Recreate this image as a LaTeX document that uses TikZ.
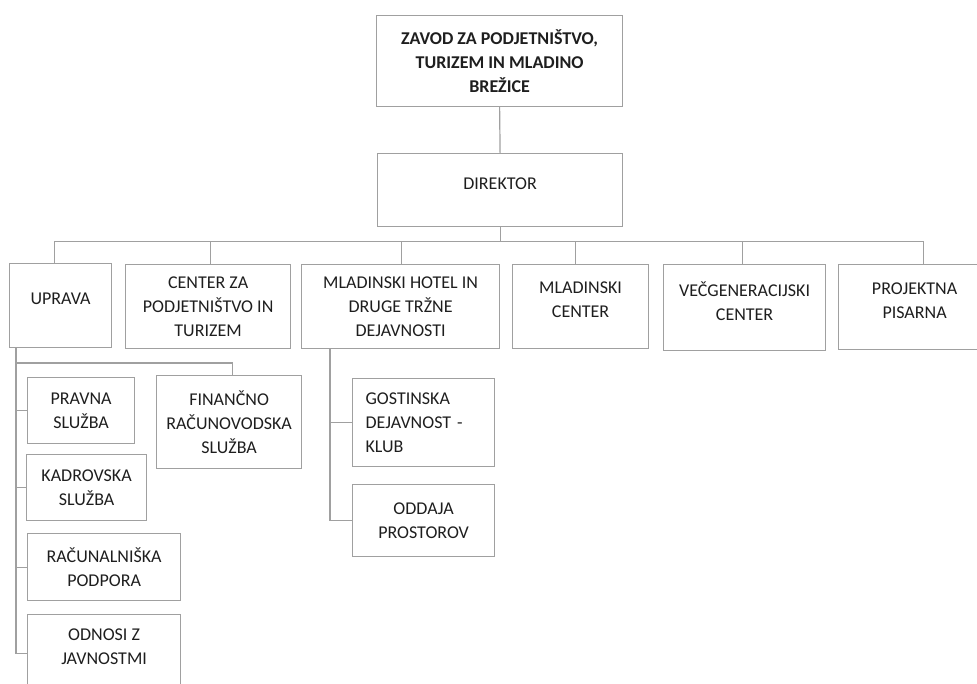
\documentclass[tikz,border=0pt]{standalone}
\usepackage{fontspec}
\setmainfont{Carlito}
\definecolor{boxline}{HTML}{A0A0A0}
\definecolor{boxtext}{HTML}{1E1E1E}

\begin{document}
\begin{tikzpicture}[x=1pt, y=-1pt]
    \tikzstyle{unit}=[draw=boxline, line width=1.2pt, anchor=north west, align=center, inner sep=2pt, text=boxtext, font=\fontsize{18}{24}\selectfont]
    \tikzstyle{raised}=[text depth=13pt]
    \tikzstyle{link}=[draw=boxline, line width=1.2pt]

    \useasboundingbox (0,0) rectangle (977,684);
    \clip (0,0) rectangle (977,684);

    % Draw the top of the chart
    \node[unit, font=\bfseries\fontsize{18}{24}\selectfont, minimum width=246pt, minimum height=91pt] (zavod) at (376,15) {ZAVOD ZA PODJETNIŠTVO,\\TURIZEM IN MLADINO\\BREŽICE};
    \node[unit, raised, minimum width=245pt, minimum height=73pt] (dir) at (377,153) {DIREKTOR};

    % Draw the departments
    \node[unit, raised, minimum width=102pt, minimum height=84pt] (upr) at (9,263) {UPRAVA};
    \node[unit, minimum width=165pt, minimum height=84pt] (czp) at (125,264) {CENTER ZA\\PODJETNIŠTVO IN\\TURIZEM};
    \node[unit, minimum width=198pt, minimum height=84pt] (mh) at (301,264) {MLADINSKI HOTEL IN\\DRUGE TRŽNE\\DEJAVNOSTI};
    \node[unit, raised, minimum width=136pt, minimum height=84pt] (mc) at (512,264) {MLADINSKI\\CENTER};
    \node[unit, raised, minimum width=162pt, minimum height=86pt] (vc) at (663,264) {VEČGENERACIJSKI\\CENTER};
    \node[unit, raised, minimum width=152pt, minimum height=85pt] (pp) at (838,264) {PROJEKTNA\\PISARNA};

    % Draw the services under UPRAVA
    \node[unit, minimum width=107pt, minimum height=66pt] (pravna) at (27,377) {PRAVNA\\SLUŽBA};
    \node[unit, minimum width=120pt, minimum height=66pt] (kadr) at (26,454) {KADROVSKA\\SLUŽBA};
    \node[unit, minimum width=153pt, minimum height=67pt] (racun) at (27,533) {RAČUNALNIŠKA\\PODPORA};
    \node[unit, text depth=14pt, minimum width=153pt, minimum height=78pt] (odnosi) at (27,614) {ODNOSI Z\\JAVNOSTMI};
    \node[unit, minimum width=145pt, minimum height=93pt] (fin) at (156,375) {FINANČNO\\RAČUNOVODSKA\\SLUŽBA};

    % Draw the units under the hotel
    \node[unit, align=left, text width=116pt, inner xsep=13pt, minimum height=88pt] (gost) at (352,378) {GOSTINSKA\\DEJAVNOST -\\KLUB};
    \node[unit, minimum width=142pt, minimum height=72pt] (oddaja) at (352,484) {ODDAJA\\PROSTOROV};

    % Connect the top with the director and the departments
    \draw[link] (zavod.south) -- (dir.north);
    \coordinate (bus) at ([yshift=-14pt]dir.south);
    \draw[link] (dir.south) -- (bus);
    \foreach \name/\dx in {upr/-6, czp/2.5, mh/1, mc/-5, vc/-2, pp/9}
        \draw[link] (bus) -| ([xshift=\dx pt]\name.north);

    % Connect UPRAVA with its services
    \coordinate (uprstem) at ([xshift=7pt]upr.south west);
    \foreach \name in {pravna, kadr, racun, odnosi}
        \draw[link] (uprstem) |- (\name.west);
    \draw[link] (uprstem) |- ([xshift=3.5pt, yshift=12pt]fin.north) -- ([xshift=3.5pt]fin.north);

    % Connect the hotel with its units
    \coordinate (mhstem) at ([xshift=29pt]mh.south west);
    \foreach \name in {gost, oddaja}
        \draw[link] (mhstem) |- (\name.west);
\end{tikzpicture}
\end{document}
